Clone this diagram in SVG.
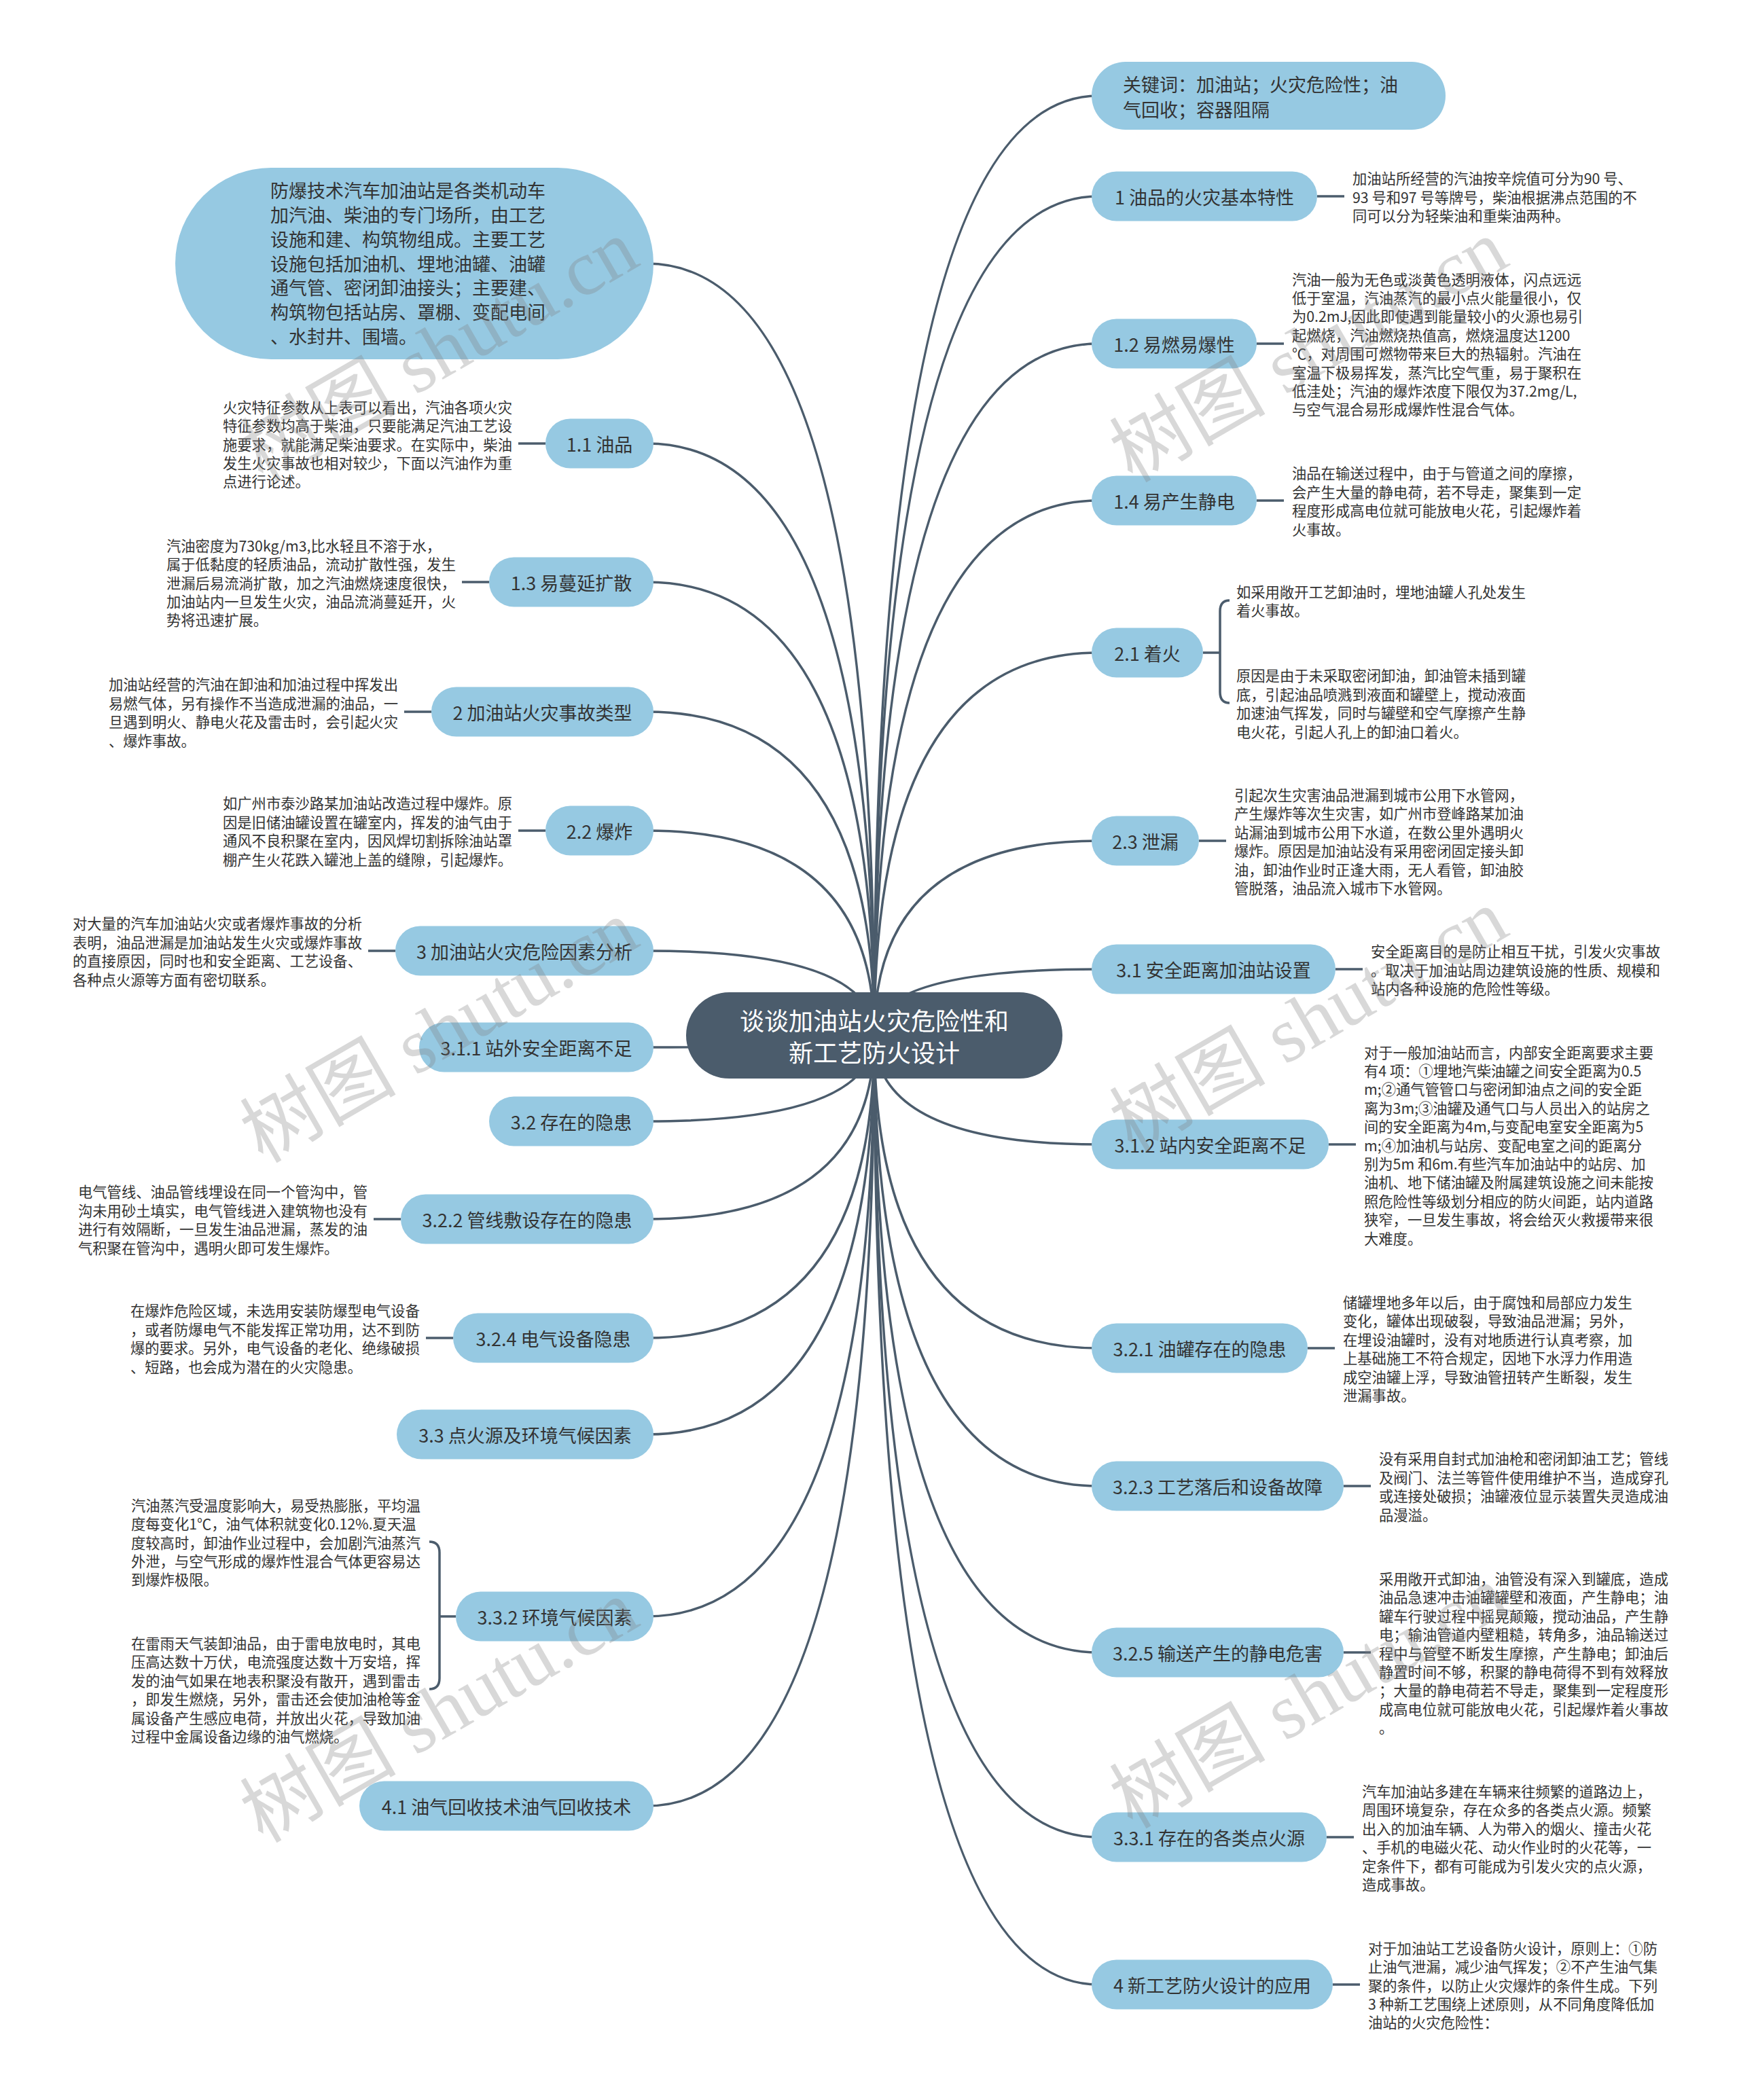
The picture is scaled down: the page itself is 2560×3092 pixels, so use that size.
<svg xmlns="http://www.w3.org/2000/svg" width="2560" height="3092" viewBox="0 0 2560 3092">
<style>
text{font-family:"Noto Sans CJK SC","Noto Sans",sans-serif;dominant-baseline:central}
.pill{fill:#96c9e2}
.lbl{font-size:27px;fill:#333;text-anchor:middle}
.big{font-size:27px;fill:#333}
.desc{font-size:21.3px;fill:#333}
.conn{fill:none;stroke:#4b5c6c;stroke-width:3.5}
.ctr{fill:#4b5c6c}
.ctrt{font-size:36px;fill:#fff;text-anchor:middle}
.wm{font-family:"Liberation Serif","Noto Sans CJK SC",serif;font-size:115px;fill:#808080;opacity:.3;text-anchor:middle}
</style>
<rect width="2560" height="3092" fill="#fff"/>
<g id="connectors">
<path class="conn" d="M1287 1524Q1287 141 1617 141"/>
<path class="conn" d="M1287 1524Q1287 289 1617 289"/>
<path class="conn" d="M1287 1524Q1287 506 1617 506"/>
<path class="conn" d="M1287 1524Q1287 737 1617 737"/>
<path class="conn" d="M1287 1524Q1287 961 1617 961"/>
<path class="conn" d="M1287 1524Q1287 1238 1617 1238"/>
<path class="conn" d="M1287 1524Q1287 1427 1617 1427"/>
<path class="conn" d="M1287 1524Q1287 1685 1617 1685"/>
<path class="conn" d="M1287 1524Q1287 1985 1617 1985"/>
<path class="conn" d="M1287 1524Q1287 2188 1617 2188"/>
<path class="conn" d="M1287 1524Q1287 2433 1617 2433"/>
<path class="conn" d="M1287 1524Q1287 2705 1617 2705"/>
<path class="conn" d="M1287 1524Q1287 2922 1617 2922"/>
<path class="conn" d="M1287 1524Q1287 388 952 388"/>
<path class="conn" d="M1287 1524Q1287 653 952 653"/>
<path class="conn" d="M1287 1524Q1287 857 952 857"/>
<path class="conn" d="M1287 1524Q1287 1048 952 1048"/>
<path class="conn" d="M1287 1524Q1287 1223 952 1223"/>
<path class="conn" d="M1287 1524Q1287 1400 952 1400"/>
<path class="conn" d="M1287 1524Q1287 1542 952 1542"/>
<path class="conn" d="M1287 1524Q1287 1651 952 1651"/>
<path class="conn" d="M1287 1524Q1287 1795 952 1795"/>
<path class="conn" d="M1287 1524Q1287 1970 952 1970"/>
<path class="conn" d="M1287 1524Q1287 2112 952 2112"/>
<path class="conn" d="M1287 1524Q1287 2380 952 2380"/>
<path class="conn" d="M1287 1524Q1287 2659 952 2659"/>
<path class="conn" d="M1939 289H1979"/>
<path class="conn" d="M1850 506H1890"/>
<path class="conn" d="M1850 737H1890"/>
<path class="conn" d="M1771 961H1796"/>
<path class="conn" d="M1810 884Q1796 884 1796 900V1019Q1796 1035 1810 1035"/>
<path class="conn" d="M1765 1238H1805"/>
<path class="conn" d="M1966 1427H2006"/>
<path class="conn" d="M1956 1685H1996"/>
<path class="conn" d="M1925 1985H1965"/>
<path class="conn" d="M1978 2188H2018"/>
<path class="conn" d="M1978 2433H2018"/>
<path class="conn" d="M1953 2705H1993"/>
<path class="conn" d="M1962 2922H2002"/>
<path class="conn" d="M763 653H803"/>
<path class="conn" d="M680 857H720"/>
<path class="conn" d="M595 1048H635"/>
<path class="conn" d="M763 1223H803"/>
<path class="conn" d="M542 1400H582"/>
<path class="conn" d="M550 1795H590"/>
<path class="conn" d="M627 1970H667"/>
<path class="conn" d="M647 2380H671"/>
<path class="conn" d="M632 2270Q647 2270 647 2286V2471Q647 2487 632 2487"/>
</g>
<g id="center">
<rect class="ctr" x="1010" y="1461" width="554" height="127" rx="63.5"/>
<text class="ctrt" x="1287" y="1501">谈谈加油站火灾危险性和</text>
<text class="ctrt" x="1287" y="1548">新工艺防火设计</text>
</g>
<g id="n-keywords">
<rect class="pill" x="1607" y="91" width="521" height="100" rx="50"/>
<text class="big" x="1653" y="123">关键词：加油站；火灾危险性；油</text>
<text class="big" x="1653" y="160">气回收；容器阻隔</text>
</g>
<g id="n-1">
<rect class="pill" x="1607" y="252.5" width="332" height="73" rx="36.5"/>
<text class="lbl" x="1773" y="289">1 油品的火灾基本特性</text>
<text class="desc" x="1991" y="261.6">加油站所经营的汽油按辛烷值可分为90 号、</text>
<text class="desc" x="1991" y="289">93 号和97 号等牌号，柴油根据沸点范围的不</text>
<text class="desc" x="1991" y="316.4">同可以分为轻柴油和重柴油两种。</text>
</g>
<g id="n-1-2">
<rect class="pill" x="1607" y="469.5" width="243" height="73" rx="36.5"/>
<text class="lbl" x="1728.5" y="506">1.2 易燃易爆性</text>
<text class="desc" x="1902" y="410.1">汽油一般为无色或淡黄色透明液体，闪点远远</text>
<text class="desc" x="1902" y="437.5">低于室温，汽油蒸汽的最小点火能量很小，仅</text>
<text class="desc" x="1902" y="464.9">为0.2mJ,因此即使遇到能量较小的火源也易引</text>
<text class="desc" x="1902" y="492.3">起燃烧，汽油燃烧热值高，燃烧温度达1200</text>
<text class="desc" x="1902" y="519.7">℃，对周围可燃物带来巨大的热辐射。汽油在</text>
<text class="desc" x="1902" y="547.1">室温下极易挥发，蒸汽比空气重，易于聚积在</text>
<text class="desc" x="1902" y="574.5">低洼处；汽油的爆炸浓度下限仅为37.2mg/L,</text>
<text class="desc" x="1902" y="601.9">与空气混合易形成爆炸性混合气体。</text>
</g>
<g id="n-1-4">
<rect class="pill" x="1607" y="700.5" width="243" height="73" rx="36.5"/>
<text class="lbl" x="1728.5" y="737">1.4 易产生静电</text>
<text class="desc" x="1902" y="695.9">油品在输送过程中，由于与管道之间的摩擦，</text>
<text class="desc" x="1902" y="723.3">会产生大量的静电荷，若不导走，聚集到一定</text>
<text class="desc" x="1902" y="750.7">程度形成高电位就可能放电火花，引起爆炸着</text>
<text class="desc" x="1902" y="778.1">火事故。</text>
</g>
<g id="n-2-1">
<rect class="pill" x="1607" y="924.5" width="164" height="73" rx="36.5"/>
<text class="lbl" x="1689" y="961">2.1 着火</text>
<text class="desc" x="1820" y="870.3">如采用敞开工艺卸油时，埋地油罐人孔处发生</text>
<text class="desc" x="1820" y="897.7">着火事故。</text>
<text class="desc" x="1820" y="993.9">原因是由于未采取密闭卸油，卸油管未插到罐</text>
<text class="desc" x="1820" y="1021.3">底，引起油品喷溅到液面和罐壁上，搅动液面</text>
<text class="desc" x="1820" y="1048.7">加速油气挥发，同时与罐壁和空气摩擦产生静</text>
<text class="desc" x="1820" y="1076.1">电火花，引起人孔上的卸油口着火。</text>
</g>
<g id="n-2-3">
<rect class="pill" x="1607" y="1201.5" width="158" height="73" rx="36.5"/>
<text class="lbl" x="1686" y="1238">2.3 泄漏</text>
<text class="desc" x="1817" y="1169.5">引起次生灾害油品泄漏到城市公用下水管网，</text>
<text class="desc" x="1817" y="1196.9">产生爆炸等次生灾害，如广州市登峰路某加油</text>
<text class="desc" x="1817" y="1224.3">站漏油到城市公用下水道，在数公里外遇明火</text>
<text class="desc" x="1817" y="1251.7">爆炸。原因是加油站没有采用密闭固定接头卸</text>
<text class="desc" x="1817" y="1279.1">油，卸油作业时正逢大雨，无人看管，卸油胶</text>
<text class="desc" x="1817" y="1306.5">管脱落，油品流入城市下水管网。</text>
</g>
<g id="n-3-1">
<rect class="pill" x="1607" y="1390.5" width="359" height="73" rx="36.5"/>
<text class="lbl" x="1786.5" y="1427">3.1 安全距离加油站设置</text>
<text class="desc" x="2018" y="1399.6">安全距离目的是防止相互干扰，引发火灾事故</text>
<text class="desc" x="2018" y="1427">。取决于加油站周边建筑设施的性质、规模和</text>
<text class="desc" x="2018" y="1454.4">站内各种设施的危险性等级。</text>
</g>
<g id="n-3-1-2">
<rect class="pill" x="1607" y="1648.5" width="349" height="73" rx="36.5"/>
<text class="lbl" x="1781.5" y="1685">3.1.2 站内安全距离不足</text>
<text class="desc" x="2008" y="1548">对于一般加油站而言，内部安全距离要求主要</text>
<text class="desc" x="2008" y="1575.4">有4 项：①埋地汽柴油罐之间安全距离为0.5</text>
<text class="desc" x="2008" y="1602.8">m;②通气管管口与密闭卸油点之间的安全距</text>
<text class="desc" x="2008" y="1630.2">离为3m;③油罐及通气口与人员出入的站房之</text>
<text class="desc" x="2008" y="1657.6">间的安全距离为4m,与变配电室安全距离为5</text>
<text class="desc" x="2008" y="1685">m;④加油机与站房、变配电室之间的距离分</text>
<text class="desc" x="2008" y="1712.4">别为5m 和6m.有些汽车加油站中的站房、加</text>
<text class="desc" x="2008" y="1739.8">油机、地下储油罐及附属建筑设施之间未能按</text>
<text class="desc" x="2008" y="1767.2">照危险性等级划分相应的防火间距，站内道路</text>
<text class="desc" x="2008" y="1794.6">狭窄，一旦发生事故，将会给灭火救援带来很</text>
<text class="desc" x="2008" y="1822">大难度。</text>
</g>
<g id="n-3-2-1">
<rect class="pill" x="1607" y="1948.5" width="318" height="73" rx="36.5"/>
<text class="lbl" x="1766" y="1985">3.2.1 油罐存在的隐患</text>
<text class="desc" x="1977" y="1916.5">储罐埋地多年以后，由于腐蚀和局部应力发生</text>
<text class="desc" x="1977" y="1943.9">变化，罐体出现破裂，导致油品泄漏；另外，</text>
<text class="desc" x="1977" y="1971.3">在埋设油罐时，没有对地质进行认真考察，加</text>
<text class="desc" x="1977" y="1998.7">上基础施工不符合规定，因地下水浮力作用造</text>
<text class="desc" x="1977" y="2026.1">成空油罐上浮，导致油管扭转产生断裂，发生</text>
<text class="desc" x="1977" y="2053.5">泄漏事故。</text>
</g>
<g id="n-3-2-3">
<rect class="pill" x="1607" y="2151.5" width="371" height="73" rx="36.5"/>
<text class="lbl" x="1792.5" y="2188">3.2.3 工艺落后和设备故障</text>
<text class="desc" x="2030" y="2146.9">没有采用自封式加油枪和密闭卸油工艺；管线</text>
<text class="desc" x="2030" y="2174.3">及阀门、法兰等管件使用维护不当，造成穿孔</text>
<text class="desc" x="2030" y="2201.7">或连接处破损；油罐液位显示装置失灵造成油</text>
<text class="desc" x="2030" y="2229.1">品漫溢。</text>
</g>
<g id="n-3-2-5">
<rect class="pill" x="1607" y="2396.5" width="371" height="73" rx="36.5"/>
<text class="lbl" x="1792.5" y="2433">3.2.5 输送产生的静电危害</text>
<text class="desc" x="2030" y="2323.4">采用敞开式卸油，油管没有深入到罐底，造成</text>
<text class="desc" x="2030" y="2350.8">油品急速冲击油罐罐壁和液面，产生静电；油</text>
<text class="desc" x="2030" y="2378.2">罐车行驶过程中摇晃颠簸，搅动油品，产生静</text>
<text class="desc" x="2030" y="2405.6">电；输油管道内壁粗糙，转角多，油品输送过</text>
<text class="desc" x="2030" y="2433">程中与管壁不断发生摩擦，产生静电；卸油后</text>
<text class="desc" x="2030" y="2460.4">静置时间不够，积聚的静电荷得不到有效释放</text>
<text class="desc" x="2030" y="2487.8">；大量的静电荷若不导走，聚集到一定程度形</text>
<text class="desc" x="2030" y="2515.2">成高电位就可能放电火花，引起爆炸着火事故</text>
<text class="desc" x="2030" y="2542.6">。</text>
</g>
<g id="n-3-3-1">
<rect class="pill" x="1607" y="2668.5" width="346" height="73" rx="36.5"/>
<text class="lbl" x="1780" y="2705">3.3.1 存在的各类点火源</text>
<text class="desc" x="2005" y="2636.5">汽车加油站多建在车辆来往频繁的道路边上，</text>
<text class="desc" x="2005" y="2663.9">周围环境复杂，存在众多的各类点火源。频繁</text>
<text class="desc" x="2005" y="2691.3">出入的加油车辆、人为带入的烟火、撞击火花</text>
<text class="desc" x="2005" y="2718.7">、手机的电磁火花、动火作业时的火花等，一</text>
<text class="desc" x="2005" y="2746.1">定条件下，都有可能成为引发火灾的点火源，</text>
<text class="desc" x="2005" y="2773.5">造成事故。</text>
</g>
<g id="n-4">
<rect class="pill" x="1607" y="2885.5" width="355" height="73" rx="36.5"/>
<text class="lbl" x="1784.5" y="2922">4 新工艺防火设计的应用</text>
<text class="desc" x="2014" y="2867.2">对于加油站工艺设备防火设计，原则上：①防</text>
<text class="desc" x="2014" y="2894.6">止油气泄漏，减少油气挥发；②不产生油气集</text>
<text class="desc" x="2014" y="2922">聚的条件，以防止火灾爆炸的条件生成。下列</text>
<text class="desc" x="2014" y="2949.4">3 种新工艺围绕上述原则，从不同角度降低加</text>
<text class="desc" x="2014" y="2976.8">油站的火灾危险性：</text>
</g>
<g id="n-intro">
<rect class="pill" x="258" y="247" width="704" height="282" rx="141"/>
<text class="big" x="398" y="279.6">防爆技术汽车加油站是各类机动车</text>
<text class="big" x="398" y="315.4">加汽油、柴油的专门场所，由工艺</text>
<text class="big" x="398" y="351.2">设施和建、构筑物组成。主要工艺</text>
<text class="big" x="398" y="387">设施包括加油机、埋地油罐、油罐</text>
<text class="big" x="398" y="422.8">通气管、密闭卸油接头；主要建、</text>
<text class="big" x="398" y="458.6">构筑物包括站房、罩棚、变配电间</text>
<text class="big" x="398" y="494.4">、水封井、围墙。</text>
</g>
<g id="n-1-1">
<rect class="pill" x="803" y="616.5" width="159" height="73" rx="36.5"/>
<text class="lbl" x="882.5" y="653">1.1 油品</text>
<text class="desc" x="328" y="598.2">火灾特征参数从上表可以看出，汽油各项火灾</text>
<text class="desc" x="328" y="625.6">特征参数均高于柴油，只要能满足汽油工艺设</text>
<text class="desc" x="328" y="653">施要求，就能满足柴油要求。在实际中，柴油</text>
<text class="desc" x="328" y="680.4">发生火灾事故也相对较少，下面以汽油作为重</text>
<text class="desc" x="328" y="707.8">点进行论述。</text>
</g>
<g id="n-1-3">
<rect class="pill" x="720" y="820.5" width="242" height="73" rx="36.5"/>
<text class="lbl" x="841" y="857">1.3 易蔓延扩散</text>
<text class="desc" x="245" y="802.2">汽油密度为730kg/m3,比水轻且不溶于水，</text>
<text class="desc" x="245" y="829.6">属于低黏度的轻质油品，流动扩散性强，发生</text>
<text class="desc" x="245" y="857">泄漏后易流淌扩散，加之汽油燃烧速度很快，</text>
<text class="desc" x="245" y="884.4">加油站内一旦发生火灾，油品流淌蔓延开，火</text>
<text class="desc" x="245" y="911.8">势将迅速扩展。</text>
</g>
<g id="n-2">
<rect class="pill" x="635" y="1011.5" width="327" height="73" rx="36.5"/>
<text class="lbl" x="798.5" y="1048">2 加油站火灾事故类型</text>
<text class="desc" x="160" y="1006.9">加油站经营的汽油在卸油和加油过程中挥发出</text>
<text class="desc" x="160" y="1034.3">易燃气体，另有操作不当造成泄漏的油品，一</text>
<text class="desc" x="160" y="1061.7">旦遇到明火、静电火花及雷击时，会引起火灾</text>
<text class="desc" x="160" y="1089.1">、爆炸事故。</text>
</g>
<g id="n-2-2">
<rect class="pill" x="803" y="1186.5" width="159" height="73" rx="36.5"/>
<text class="lbl" x="882.5" y="1223">2.2 爆炸</text>
<text class="desc" x="328" y="1181.9">如广州市泰沙路某加油站改造过程中爆炸。原</text>
<text class="desc" x="328" y="1209.3">因是旧储油罐设置在罐室内，挥发的油气由于</text>
<text class="desc" x="328" y="1236.7">通风不良积聚在室内，因风焊切割拆除油站罩</text>
<text class="desc" x="328" y="1264.1">棚产生火花跌入罐池上盖的缝隙，引起爆炸。</text>
</g>
<g id="n-3">
<rect class="pill" x="582" y="1363.5" width="380" height="73" rx="36.5"/>
<text class="lbl" x="772" y="1400">3 加油站火灾危险因素分析</text>
<text class="desc" x="107" y="1358.9">对大量的汽车加油站火灾或者爆炸事故的分析</text>
<text class="desc" x="107" y="1386.3">表明，油品泄漏是加油站发生火灾或爆炸事故</text>
<text class="desc" x="107" y="1413.7">的直接原因，同时也和安全距离、工艺设备、</text>
<text class="desc" x="107" y="1441.1">各种点火源等方面有密切联系。</text>
</g>
<g id="n-3-1-1">
<rect class="pill" x="617" y="1505.5" width="345" height="73" rx="36.5"/>
<text class="lbl" x="789.5" y="1542">3.1.1 站外安全距离不足</text>
</g>
<g id="n-3-2">
<rect class="pill" x="720" y="1614.5" width="242" height="73" rx="36.5"/>
<text class="lbl" x="841" y="1651">3.2 存在的隐患</text>
</g>
<g id="n-3-2-2">
<rect class="pill" x="590" y="1758.5" width="372" height="73" rx="36.5"/>
<text class="lbl" x="776" y="1795">3.2.2 管线敷设存在的隐患</text>
<text class="desc" x="115" y="1753.9">电气管线、油品管线埋设在同一个管沟中，管</text>
<text class="desc" x="115" y="1781.3">沟未用砂土填实，电气管线进入建筑物也没有</text>
<text class="desc" x="115" y="1808.7">进行有效隔断，一旦发生油品泄漏，蒸发的油</text>
<text class="desc" x="115" y="1836.1">气积聚在管沟中，遇明火即可发生爆炸。</text>
</g>
<g id="n-3-2-4">
<rect class="pill" x="667" y="1933.5" width="295" height="73" rx="36.5"/>
<text class="lbl" x="814.5" y="1970">3.2.4 电气设备隐患</text>
<text class="desc" x="192" y="1928.9">在爆炸危险区域，未选用安装防爆型电气设备</text>
<text class="desc" x="192" y="1956.3">，或者防爆电气不能发挥正常功用，达不到防</text>
<text class="desc" x="192" y="1983.7">爆的要求。另外，电气设备的老化、绝缘破损</text>
<text class="desc" x="192" y="2011.1">、短路，也会成为潜在的火灾隐患。</text>
</g>
<g id="n-3-3">
<rect class="pill" x="584" y="2075.5" width="378" height="73" rx="36.5"/>
<text class="lbl" x="773" y="2112">3.3 点火源及环境气候因素</text>
</g>
<g id="n-3-3-2">
<rect class="pill" x="671" y="2343.5" width="291" height="73" rx="36.5"/>
<text class="lbl" x="816.5" y="2380">3.3.2 环境气候因素</text>
<text class="desc" x="193" y="2215.2">汽油蒸汽受温度影响大，易受热膨胀，平均温</text>
<text class="desc" x="193" y="2242.6">度每变化1℃，油气体积就变化0.12%.夏天温</text>
<text class="desc" x="193" y="2270">度较高时，卸油作业过程中，会加剧汽油蒸汽</text>
<text class="desc" x="193" y="2297.4">外泄，与空气形成的爆炸性混合气体更容易达</text>
<text class="desc" x="193" y="2324.8">到爆炸极限。</text>
<text class="desc" x="193" y="2418.5">在雷雨天气装卸油品，由于雷电放电时，其电</text>
<text class="desc" x="193" y="2445.9">压高达数十万伏，电流强度达数十万安培，挥</text>
<text class="desc" x="193" y="2473.3">发的油气如果在地表积聚没有散开，遇到雷击</text>
<text class="desc" x="193" y="2500.7">，即发生燃烧，另外，雷击还会使加油枪等金</text>
<text class="desc" x="193" y="2528.1">属设备产生感应电荷，并放出火花，导致加油</text>
<text class="desc" x="193" y="2555.5">过程中金属设备边缘的油气燃烧。</text>
</g>
<g id="n-4-1">
<rect class="pill" x="529" y="2622.5" width="433" height="73" rx="36.5"/>
<text class="lbl" x="745.5" y="2659">4.1 油气回收技术油气回收技术</text>
</g>
<g id="watermarks">
<text class="wm" transform="translate(647 517) rotate(-30)">树图 shutu.cn</text>
<text class="wm" transform="translate(1927 517) rotate(-30)">树图 shutu.cn</text>
<text class="wm" transform="translate(647 1519) rotate(-30)">树图 shutu.cn</text>
<text class="wm" transform="translate(1927 1503) rotate(-30)">树图 shutu.cn</text>
<text class="wm" transform="translate(647 2520) rotate(-30)">树图 shutu.cn</text>
<text class="wm" transform="translate(1927 2499) rotate(-30)">树图 shutu.cn</text>
</g>
</svg>
